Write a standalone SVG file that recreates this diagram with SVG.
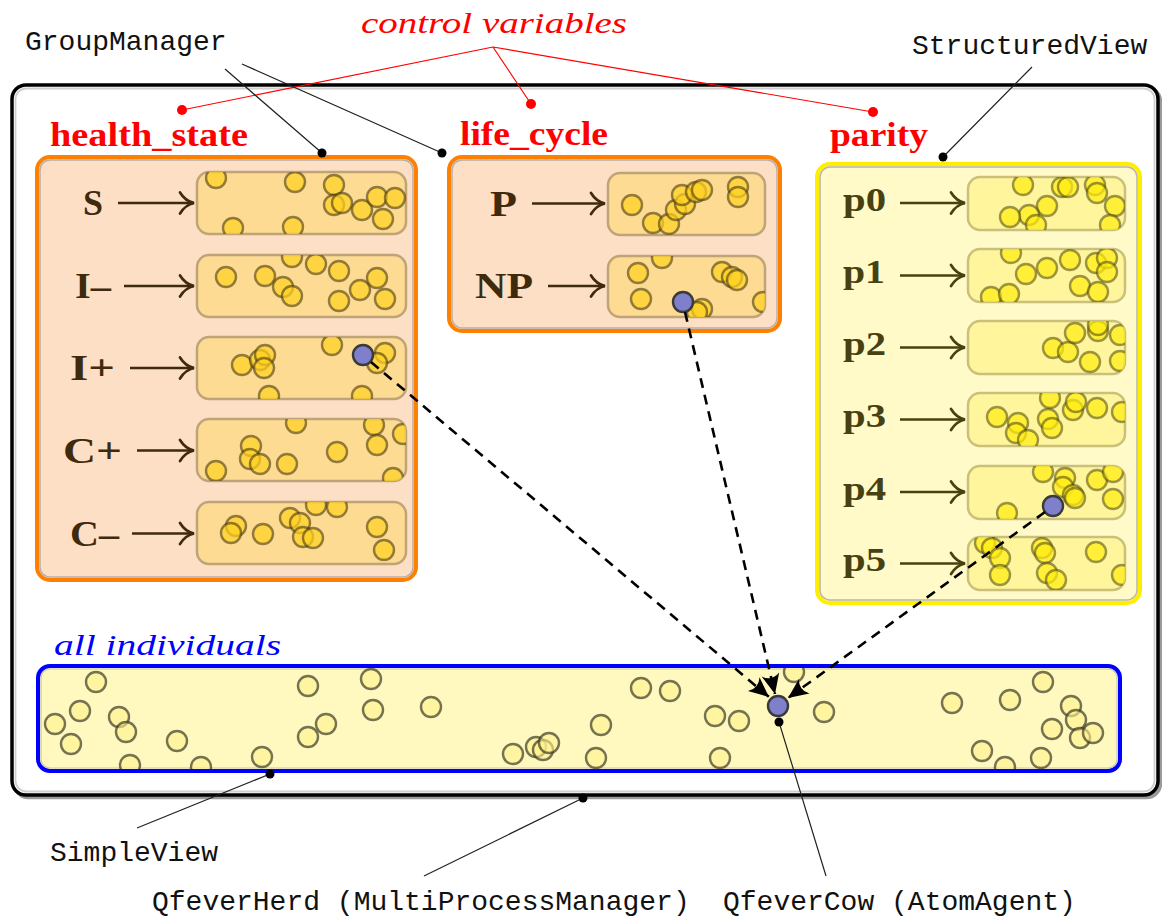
<svg xmlns="http://www.w3.org/2000/svg" width="1162" height="919" viewBox="0 0 1162 919">
<style>
  .mono{font-family:"Liberation Mono","DejaVu Sans Mono",monospace;font-size:28px;fill:#111}
  .head{font-family:"Liberation Serif","DejaVu Serif",serif;font-weight:bold;font-size:33px;fill:#ff0000}
  .ital{font-family:"Liberation Serif","DejaVu Serif",serif;font-style:italic;font-size:30px}
  .lblH{font-family:"Liberation Serif","DejaVu Serif",serif;font-weight:bold;font-size:35px;fill:#3f2a0d}
  .lblP{font-family:"Liberation Serif","DejaVu Serif",serif;font-weight:bold;font-size:33px;fill:#474112}
  .arrH{fill:none;stroke:#3f2a0d;stroke-width:2.7;marker-end:url(#tipH)}
  .arrP{fill:none;stroke:#474112;stroke-width:2.7;marker-end:url(#tipP)}
  .cmpH{fill:#fddb93;stroke:#bfa477;stroke-width:2.5}
  .cmpP{fill:#fff59c;stroke:#c9c07a;stroke-width:2.5}
  .indH{fill:#ffd21f;fill-opacity:.7;stroke:#4a3a12;stroke-opacity:.6;stroke-width:2.4}
  .indP{fill:#ffec10;fill-opacity:.7;stroke:#4a4612;stroke-opacity:.55;stroke-width:2.4}
  .indA{fill:#fff08a;fill-opacity:.6;stroke:#3c3a28;stroke-opacity:.7;stroke-width:2.4}
  .focal{fill:#7f7fcc;stroke:#3a3a3a;stroke-width:2.4}
  .ptr{fill:none;stroke:#222;stroke-width:1.2}
  .red{fill:none;stroke:#ff0000;stroke-width:1.2}
  .dash{fill:none;stroke:#000;stroke-width:2.6;stroke-dasharray:10 7;marker-end:url(#stealth)}
</style>
<defs>
  <marker id="tipH" markerUnits="userSpaceOnUse" viewBox="-17 -13 19 26" refX="0" refY="0" markerWidth="19" markerHeight="26" orient="auto">
    <path d="M-14,-10.5 C-10,-4 -5,-1 0,0 C-5,1 -10,4 -14,10.5" fill="none" stroke="#3f2a0d" stroke-width="2.7" stroke-linecap="round"/>
  </marker>
  <marker id="tipP" markerUnits="userSpaceOnUse" viewBox="-17 -13 19 26" refX="0" refY="0" markerWidth="19" markerHeight="26" orient="auto">
    <path d="M-14,-10.5 C-10,-4 -5,-1 0,0 C-5,1 -10,4 -14,10.5" fill="none" stroke="#474112" stroke-width="2.7" stroke-linecap="round"/>
  </marker>
  <marker id="stealth" markerUnits="userSpaceOnUse" viewBox="-22 -11 24 22" refX="0" refY="0" markerWidth="24" markerHeight="22" orient="auto">
    <path d="M0,0 L-20,-9 Q-13,0 -20,9 Z" fill="#000"/>
  </marker>
  <clipPath id="cS"><rect x="197" y="172" width="209" height="62" rx="12"/></clipPath>
  <clipPath id="cIm"><rect x="197" y="255" width="209" height="62" rx="12"/></clipPath>
  <clipPath id="cIp"><rect x="197" y="337" width="209" height="62" rx="12"/></clipPath>
  <clipPath id="cCp"><rect x="197" y="419" width="209" height="62" rx="12"/></clipPath>
  <clipPath id="cCm"><rect x="197" y="502" width="209" height="62" rx="12"/></clipPath>
  <clipPath id="cP"><rect x="608" y="173" width="157" height="62" rx="12"/></clipPath>
  <clipPath id="cNP"><rect x="608" y="256" width="157" height="61" rx="12"/></clipPath>
  <clipPath id="cp0"><rect x="968" y="177" width="157" height="53" rx="12"/></clipPath>
  <clipPath id="cp1"><rect x="968" y="249" width="157" height="53" rx="12"/></clipPath>
  <clipPath id="cp2"><rect x="968" y="321" width="157" height="53" rx="12"/></clipPath>
  <clipPath id="cp3"><rect x="968" y="393" width="157" height="53" rx="12"/></clipPath>
  <clipPath id="cp4"><rect x="968" y="466" width="157" height="53" rx="12"/></clipPath>
  <clipPath id="cp5"><rect x="968" y="537" width="157" height="53" rx="12"/></clipPath>
  <clipPath id="cAll"><rect x="40" y="668" width="1078" height="101" rx="10"/></clipPath>
</defs>

<rect width="1162" height="919" fill="#ffffff"/>

<!-- herd frame -->
<g id="herd">
  <rect x="14.5" y="87.5" width="1146" height="710" rx="14" fill="none" stroke="#9a9a9a" stroke-width="3.5"/>
  <rect x="12" y="85" width="1146" height="710" rx="14" fill="#ffffff" stroke="#000" stroke-width="3.5"/>
  <rect x="15.5" y="88.5" width="1139" height="703" rx="11" fill="none" stroke="#cfcfcf" stroke-width="1.8"/>
</g>

<!-- health_state group -->
<g id="health_state">
  <text class="head" x="50" y="146" textLength="198" lengthAdjust="spacingAndGlyphs">health_state</text>
  <rect x="37" y="157" width="379" height="423" rx="13" fill="#fcdfc4" stroke="#ff8000" stroke-width="4"/>
  <rect x="40" y="160" width="373" height="417" rx="10" fill="none" stroke="#b8b0a8" stroke-width="1.5"/>
  <g id="state_S">
    <text class="lblH" x="83" y="215" textLength="20" lengthAdjust="spacingAndGlyphs">S</text>
    <path class="arrH" d="M118,203 H194"/>
    <rect class="cmpH" x="197" y="172" width="209" height="62" rx="12"/>
    <g clip-path="url(#cS)">
      <circle class="indH" cx="216" cy="178" r="10"/><circle class="indH" cx="295" cy="182" r="10"/>
      <circle class="indH" cx="334" cy="185" r="10"/><circle class="indH" cx="334" cy="205" r="10"/>
      <circle class="indH" cx="342" cy="203" r="10"/><circle class="indH" cx="362" cy="210" r="10"/>
      <circle class="indH" cx="377" cy="197" r="10"/><circle class="indH" cx="395" cy="198" r="10"/>
      <circle class="indH" cx="383" cy="219" r="10"/><circle class="indH" cx="233" cy="228" r="10"/>
      <circle class="indH" cx="293" cy="227" r="10"/>
    </g>
  </g>
  <g id="state_Iminus">
    <text class="lblH" x="75" y="298" textLength="36" lengthAdjust="spacingAndGlyphs">I–</text>
    <path class="arrH" d="M124,286 H194"/>
    <rect class="cmpH" x="197" y="255" width="209" height="62" rx="12"/>
    <g clip-path="url(#cIm)">
      <circle class="indH" cx="226" cy="277" r="10"/><circle class="indH" cx="265" cy="276" r="10"/>
      <circle class="indH" cx="283" cy="287" r="10"/><circle class="indH" cx="292" cy="296" r="10"/>
      <circle class="indH" cx="292" cy="257" r="10"/><circle class="indH" cx="316" cy="264" r="10"/>
      <circle class="indH" cx="339" cy="271" r="10"/><circle class="indH" cx="360" cy="290" r="10"/>
      <circle class="indH" cx="339" cy="301" r="10"/><circle class="indH" cx="377" cy="278" r="10"/>
      <circle class="indH" cx="385" cy="299" r="10"/>
    </g>
  </g>
  <g id="state_Iplus">
    <text class="lblH" x="70" y="380" textLength="45" lengthAdjust="spacingAndGlyphs">I+</text>
    <path class="arrH" d="M130,368 H194"/>
    <rect class="cmpH" x="197" y="337" width="209" height="62" rx="12"/>
    <g clip-path="url(#cIp)">
      <circle class="indH" cx="242" cy="365" r="10"/><circle class="indH" cx="260" cy="360" r="10"/>
      <circle class="indH" cx="265" cy="355" r="10"/><circle class="indH" cx="264" cy="368" r="10"/>
      <circle class="indH" cx="332" cy="345" r="10"/><circle class="indH" cx="385" cy="353" r="10"/>
      <circle class="indH" cx="377" cy="363" r="10"/><circle class="indH" cx="269" cy="396" r="10"/>
      <circle class="indH" cx="362" cy="396" r="10"/>
    </g>
    <circle class="focal" cx="363" cy="355" r="10"/>
  </g>
  <g id="state_Cplus">
    <text class="lblH" x="63" y="462.5" textLength="59" lengthAdjust="spacingAndGlyphs">C+</text>
    <path class="arrH" d="M137,450.5 H194"/>
    <rect class="cmpH" x="197" y="419" width="209" height="62" rx="12"/>
    <g clip-path="url(#cCp)">
      <circle class="indH" cx="296" cy="423" r="10"/><circle class="indH" cx="251" cy="446" r="10"/>
      <circle class="indH" cx="250" cy="459" r="10"/><circle class="indH" cx="260" cy="464" r="10"/>
      <circle class="indH" cx="287" cy="464" r="10"/><circle class="indH" cx="216" cy="471" r="10"/>
      <circle class="indH" cx="337" cy="452" r="10"/><circle class="indH" cx="374" cy="425" r="10"/>
      <circle class="indH" cx="377" cy="445" r="10"/><circle class="indH" cx="403" cy="434" r="10"/>
      <circle class="indH" cx="393" cy="478" r="10"/>
    </g>
  </g>
  <g id="state_Cminus">
    <text class="lblH" x="70" y="545.5" textLength="49" lengthAdjust="spacingAndGlyphs">C–</text>
    <path class="arrH" d="M132,533.5 H194"/>
    <rect class="cmpH" x="197" y="502" width="209" height="62" rx="12"/>
    <g clip-path="url(#cCm)">
      <circle class="indH" cx="236" cy="526" r="10"/><circle class="indH" cx="231" cy="533" r="10"/>
      <circle class="indH" cx="263" cy="534" r="10"/><circle class="indH" cx="290" cy="518" r="10"/>
      <circle class="indH" cx="300" cy="523" r="10"/><circle class="indH" cx="303" cy="537" r="10"/>
      <circle class="indH" cx="313" cy="538" r="10"/><circle class="indH" cx="316" cy="505" r="10"/>
      <circle class="indH" cx="337" cy="507" r="10"/><circle class="indH" cx="377" cy="527" r="10"/>
      <circle class="indH" cx="384" cy="550" r="10"/>
    </g>
  </g>
</g>

<!-- life_cycle group -->
<g id="life_cycle">
  <text class="head" x="460" y="145" textLength="148" lengthAdjust="spacingAndGlyphs">life_cycle</text>
  <rect x="449" y="157" width="331" height="174" rx="13" fill="#fcdfc4" stroke="#ff8000" stroke-width="4"/>
  <rect x="452" y="160" width="325" height="168" rx="10" fill="none" stroke="#b8b0a8" stroke-width="1.5"/>
  <g id="stage_P">
    <text class="lblH" x="490" y="215.5" textLength="27" lengthAdjust="spacingAndGlyphs">P</text>
    <path class="arrH" d="M532,203.5 H605"/>
    <rect class="cmpH" x="608" y="173" width="157" height="62" rx="12"/>
    <g clip-path="url(#cP)">
      <circle class="indH" cx="632" cy="205" r="10"/><circle class="indH" cx="653" cy="223" r="10"/>
      <circle class="indH" cx="669" cy="224" r="10"/><circle class="indH" cx="676" cy="210" r="10"/>
      <circle class="indH" cx="685" cy="204" r="10"/><circle class="indH" cx="682" cy="195" r="10"/>
      <circle class="indH" cx="696" cy="192" r="10"/><circle class="indH" cx="702" cy="190" r="10"/>
      <circle class="indH" cx="738" cy="187" r="10"/><circle class="indH" cx="738" cy="197" r="10"/>
    </g>
  </g>
  <g id="stage_NP">
    <text class="lblH" x="475" y="298" textLength="58" lengthAdjust="spacingAndGlyphs">NP</text>
    <path class="arrH" d="M548,286 H605"/>
    <rect class="cmpH" x="608" y="256" width="157" height="61" rx="12"/>
    <g clip-path="url(#cNP)">
      <circle class="indH" cx="638" cy="273" r="10"/><circle class="indH" cx="662" cy="258" r="10"/>
      <circle class="indH" cx="641" cy="299" r="10"/><circle class="indH" cx="722" cy="272" r="10"/>
      <circle class="indH" cx="732" cy="277" r="10"/><circle class="indH" cx="737" cy="280" r="10"/>
      <circle class="indH" cx="702" cy="309" r="10"/><circle class="indH" cx="697" cy="312" r="10"/>
      <circle class="indH" cx="763" cy="302" r="10"/>
    </g>
    <circle class="focal" cx="683" cy="302" r="10"/>
  </g>
</g>

<!-- parity group -->
<g id="parity">
  <text class="head" x="830" y="146" textLength="98" lengthAdjust="spacingAndGlyphs">parity</text>
  <rect x="817" y="164" width="323" height="439" rx="13" fill="#fffac8" stroke="#ffee00" stroke-width="4"/>
  <rect x="820" y="167" width="317" height="433" rx="10" fill="none" stroke="#b8b6a8" stroke-width="1.5"/>
  <g id="parity_p0">
    <text class="lblP" x="843" y="210.5" textLength="43" lengthAdjust="spacingAndGlyphs">p0</text>
    <path class="arrP" d="M900,203 H965"/>
    <rect class="cmpP" x="968" y="177" width="157" height="53" rx="12"/>
    <g clip-path="url(#cp0)">
      <circle class="indP" cx="1023" cy="185" r="10"/><circle class="indP" cx="1062" cy="187" r="10"/>
      <circle class="indP" cx="1068" cy="187" r="10"/><circle class="indP" cx="1095" cy="185" r="10"/>
      <circle class="indP" cx="1097" cy="193" r="10"/><circle class="indP" cx="1115" cy="206" r="10"/>
      <circle class="indP" cx="1047" cy="206" r="10"/><circle class="indP" cx="1029" cy="215" r="10"/>
      <circle class="indP" cx="1010" cy="217" r="10"/><circle class="indP" cx="1036" cy="225" r="10"/>
      <circle class="indP" cx="1110" cy="225" r="10"/>
    </g>
  </g>
  <g id="parity_p1">
    <text class="lblP" x="843" y="283" textLength="42" lengthAdjust="spacingAndGlyphs">p1</text>
    <path class="arrP" d="M900,275.5 H965"/>
    <rect class="cmpP" x="968" y="249" width="157" height="53" rx="12"/>
    <g clip-path="url(#cp1)">
      <circle class="indP" cx="1011" cy="253" r="10"/><circle class="indP" cx="1026" cy="274" r="10"/>
      <circle class="indP" cx="1047" cy="268" r="10"/><circle class="indP" cx="1070" cy="260" r="10"/>
      <circle class="indP" cx="1096" cy="263" r="10"/><circle class="indP" cx="1107" cy="258" r="10"/>
      <circle class="indP" cx="1107" cy="272" r="10"/><circle class="indP" cx="1080" cy="286" r="10"/>
      <circle class="indP" cx="1098" cy="292" r="10"/><circle class="indP" cx="991" cy="297" r="10"/>
      <circle class="indP" cx="1009" cy="294" r="10"/>
    </g>
  </g>
  <g id="parity_p2">
    <text class="lblP" x="843" y="355" textLength="43" lengthAdjust="spacingAndGlyphs">p2</text>
    <path class="arrP" d="M900,347.5 H965"/>
    <rect class="cmpP" x="968" y="321" width="157" height="53" rx="12"/>
    <g clip-path="url(#cp2)">
      <circle class="indP" cx="1053" cy="348" r="10"/><circle class="indP" cx="1068" cy="352" r="10"/>
      <circle class="indP" cx="1075" cy="333" r="10"/><circle class="indP" cx="1098" cy="331" r="10"/>
      <circle class="indP" cx="1098" cy="325" r="10"/><circle class="indP" cx="1120" cy="335" r="10"/>
      <circle class="indP" cx="1090" cy="362" r="10"/><circle class="indP" cx="1120" cy="361" r="10"/>
    </g>
  </g>
  <g id="parity_p3">
    <text class="lblP" x="843" y="427" textLength="43" lengthAdjust="spacingAndGlyphs">p3</text>
    <path class="arrP" d="M900,419.5 H965"/>
    <rect class="cmpP" x="968" y="393" width="157" height="53" rx="12"/>
    <g clip-path="url(#cp3)">
      <circle class="indP" cx="997" cy="417" r="10"/><circle class="indP" cx="1018" cy="423" r="10"/>
      <circle class="indP" cx="1016" cy="433" r="10"/><circle class="indP" cx="1028" cy="440" r="10"/>
      <circle class="indP" cx="1050" cy="398" r="10"/><circle class="indP" cx="1048" cy="419" r="10"/>
      <circle class="indP" cx="1052" cy="428" r="10"/><circle class="indP" cx="1073" cy="410" r="10"/>
      <circle class="indP" cx="1076" cy="402" r="10"/><circle class="indP" cx="1097" cy="408" r="10"/>
      <circle class="indP" cx="1122" cy="412" r="10"/>
    </g>
  </g>
  <g id="parity_p4">
    <text class="lblP" x="843" y="499.5" textLength="43" lengthAdjust="spacingAndGlyphs">p4</text>
    <path class="arrP" d="M900,492 H965"/>
    <rect class="cmpP" x="968" y="466" width="157" height="53" rx="12"/>
    <g clip-path="url(#cp4)">
      <circle class="indP" cx="1043" cy="472" r="10"/><circle class="indP" cx="1065" cy="478" r="10"/>
      <circle class="indP" cx="1063" cy="487" r="10"/><circle class="indP" cx="1073" cy="495" r="10"/>
      <circle class="indP" cx="1075" cy="498" r="10"/><circle class="indP" cx="1097" cy="480" r="10"/>
      <circle class="indP" cx="1113" cy="472" r="10"/><circle class="indP" cx="1113" cy="499" r="10"/>
      <circle class="indP" cx="1007" cy="513" r="10"/>
    </g>
    <circle class="focal" cx="1053" cy="506" r="10"/>
  </g>
  <g id="parity_p5">
    <text class="lblP" x="843" y="571" textLength="43" lengthAdjust="spacingAndGlyphs">p5</text>
    <path class="arrP" d="M900,563.5 H965"/>
    <rect class="cmpP" x="968" y="537" width="157" height="53" rx="12"/>
    <g clip-path="url(#cp5)">
      <circle class="indP" cx="985" cy="543" r="10"/><circle class="indP" cx="992" cy="548" r="10"/>
      <circle class="indP" cx="1000" cy="558" r="10"/><circle class="indP" cx="1000" cy="575" r="10"/>
      <circle class="indP" cx="1042" cy="548" r="10"/><circle class="indP" cx="1045" cy="553" r="10"/>
      <circle class="indP" cx="1047" cy="573" r="10"/><circle class="indP" cx="1056" cy="580" r="10"/>
      <circle class="indP" cx="1096" cy="552" r="10"/><circle class="indP" cx="1122" cy="575" r="10"/>
    </g>
  </g>
</g>

<!-- all individuals -->
<g id="all_individuals">
  <text class="ital" x="54" y="655" fill="#0000ff" textLength="227" lengthAdjust="spacingAndGlyphs">all individuals</text>
  <rect x="38" y="666" width="1082" height="105" rx="12" fill="#fff9bf" stroke="#0000ff" stroke-width="4"/>
  <rect x="41" y="669" width="1076" height="99" rx="9" fill="none" stroke="#c8c6b0" stroke-width="1.2"/>
  <g clip-path="url(#cAll)">
    <circle class="indA" cx="96" cy="682" r="10"/><circle class="indA" cx="80" cy="711" r="10"/>
    <circle class="indA" cx="55" cy="724" r="10"/><circle class="indA" cx="71" cy="744" r="10"/>
    <circle class="indA" cx="119" cy="717" r="10"/><circle class="indA" cx="126" cy="732" r="10"/>
    <circle class="indA" cx="130" cy="765" r="10"/><circle class="indA" cx="177" cy="741" r="10"/>
    <circle class="indA" cx="201" cy="767" r="10"/><circle class="indA" cx="262" cy="757" r="10"/>
    <circle class="indA" cx="308" cy="686" r="10"/><circle class="indA" cx="308" cy="737" r="10"/>
    <circle class="indA" cx="326" cy="724" r="10"/><circle class="indA" cx="371" cy="679" r="10"/>
    <circle class="indA" cx="373" cy="710" r="10"/><circle class="indA" cx="431" cy="707" r="10"/>
    <circle class="indA" cx="513" cy="754" r="10"/><circle class="indA" cx="536" cy="747" r="10"/>
    <circle class="indA" cx="543" cy="750" r="10"/><circle class="indA" cx="549" cy="743" r="10"/>
    <circle class="indA" cx="601" cy="725" r="10"/><circle class="indA" cx="596" cy="758" r="10"/>
    <circle class="indA" cx="641" cy="688" r="10"/><circle class="indA" cx="670" cy="691" r="10"/>
    <circle class="indA" cx="715" cy="716" r="10"/><circle class="indA" cx="739" cy="721" r="10"/>
    <circle class="indA" cx="720" cy="758" r="10"/><circle class="indA" cx="794" cy="672" r="10"/>
    <circle class="indA" cx="824" cy="712" r="10"/><circle class="indA" cx="952" cy="703" r="10"/>
    <circle class="indA" cx="1010" cy="700" r="10"/><circle class="indA" cx="1043" cy="682" r="10"/>
    <circle class="indA" cx="1071" cy="706" r="10"/><circle class="indA" cx="1076" cy="720" r="10"/>
    <circle class="indA" cx="1052" cy="729" r="10"/><circle class="indA" cx="1080" cy="738" r="10"/>
    <circle class="indA" cx="1093" cy="733" r="10"/><circle class="indA" cx="982" cy="751" r="10"/>
    <circle class="indA" cx="1005" cy="767" r="10"/><circle class="indA" cx="1041" cy="758" r="10"/>
  </g>
  <circle id="qfever_cow" class="focal" cx="778" cy="706" r="10"/>
</g>

<!-- labels outside the frame -->
<g id="labels">
  <text class="ital" x="361" y="33" fill="#ff0000" textLength="266" lengthAdjust="spacingAndGlyphs">control variables</text>
  <text class="mono" x="25" y="50">GroupManager</text>
  <text class="mono" x="912" y="54">StructuredView</text>
  <text class="mono" x="50" y="861">SimpleView</text>
  <text class="mono" x="152" y="910">QfeverHerd (MultiProcessManager)</text>
  <text class="mono" x="723" y="910">QfeverCow (AtomAgent)</text>
</g>

<!-- connectors -->
<g id="connectors">
  <path class="red" d="M493,47 L182,110 M493,47 L531,104 M493,47 L873,112"/>
  <circle cx="182" cy="110" r="5" fill="#ff0000"/>
  <circle cx="531" cy="104" r="5" fill="#ff0000"/>
  <circle cx="873" cy="112" r="5" fill="#ff0000"/>

  <path class="ptr" d="M225,69 L322,153 M242,64 L442,153 M1032,67 L943,157 M137,828 L270,774 M424,876 L583,798 M826,876 L779,722"/>
  <circle cx="322" cy="153" r="4.5" fill="#000"/>
  <circle cx="442" cy="153" r="4.5" fill="#000"/>
  <circle cx="943" cy="157" r="4.5" fill="#000"/>
  <circle cx="270" cy="774" r="4.5" fill="#000"/>
  <circle cx="583" cy="798" r="4.5" fill="#000"/>
  <circle cx="779" cy="722" r="4.5" fill="#000"/>

  <path class="dash" d="M371,362 L769,697"/>
  <path class="dash" d="M685,312 L775,694"/>
  <path class="dash" d="M1045,512 L788,698"/>
</g>
</svg>
